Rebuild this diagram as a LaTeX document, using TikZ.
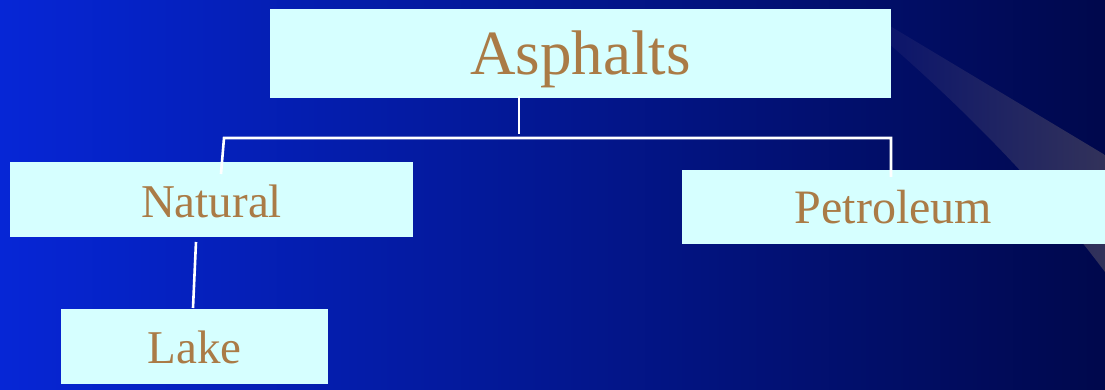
\documentclass[tikz,border=0pt]{standalone}
\usepackage{fontspec}
\setmainfont{Liberation Serif}
\definecolor{boxfill}{RGB}{214,255,255}
\definecolor{boxtext}{RGB}{170,123,70}
\definecolor{bgleft}{RGB}{6,38,214}
\definecolor{bgmid}{RGB}{2,24,150}
\definecolor{bgright}{RGB}{0,8,76}
\definecolor{bandleft}{RGB}{10,20,108}
\definecolor{bandright}{RGB}{50,50,90}
\begin{document}
\begin{tikzpicture}[x=1pt,y=1pt,
  box/.style={fill=boxfill, draw=none, inner sep=0pt, text=boxtext, align=center, text depth=0pt},
  link/.style={draw=white, line width=2.6pt}]
\useasboundingbox (0,0) rectangle (1105,-390);
% background
\shade[left color=bgleft, middle color=bgmid, right color=bgright] (0,0) rectangle (1105,-390);
% swoosh band
\shade[left color=bandleft, right color=bandright]
  (880,-20) -- (1105,-155) -- (1105,-272)
  .. controls (1040,-185) and (960,-105) .. (880,-36) -- cycle;
% boxes
\node[box, minimum width=621pt, minimum height=89pt, text height=43pt, font=\fontsize{63}{63}\selectfont] (asph) at (580.5,-53.5) {Asphalts};
\node[box, minimum width=403pt, minimum height=75pt, text height=35pt, font=\fontsize{47}{47}\selectfont] (nat) at (211.5,-199.5) {Natural};
\node[box, minimum width=267pt, minimum height=75pt, text height=33pt, font=\fontsize{47}{47}\selectfont] (lake) at (194.5,-346.5) {Lake};
\node[box, minimum width=423pt, minimum height=74pt, text height=32pt, font=\fontsize{48}{48}\selectfont] (pet) at (893.5,-207) {Petroleum};
% connector points
\coordinate (aTop) at (519,-96);
\coordinate (aBot) at (519,-134);
\coordinate (hL) at (224,-138);
\coordinate (hR) at (891,-138);
\coordinate (nIn) at (221,-174);
\coordinate (pIn) at (891,-177);
\coordinate (nOut) at (196,-242);
\coordinate (lIn) at (193,-308);
\draw[link] (aTop) -- (aBot);
\draw[link, line join=miter] (nIn) -- (hL) -- (hR) -- (pIn);
\draw[link] (nOut) -- (lIn);
\end{tikzpicture}
\end{document}
